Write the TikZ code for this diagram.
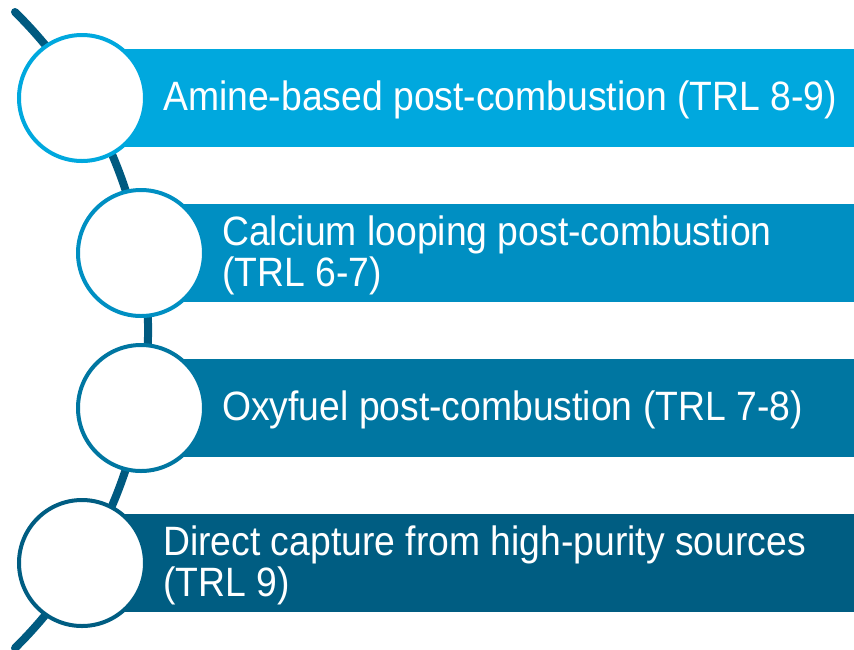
\documentclass[tikz,border=0pt]{standalone}
\usepackage{fontspec}
\setmainfont{Liberation Sans}[FakeStretch=0.91]
\definecolor{stepA}{HTML}{00A8DE}
\definecolor{stepB}{HTML}{008FC2}
\definecolor{stepC}{HTML}{0076A1}
\definecolor{stepD}{HTML}{005D82}
\definecolor{spine}{HTML}{005A80}
\begin{document}
\begin{tikzpicture}[x=1pt,y=-1pt,
  ring/.style={circle, draw=#1, fill=white, line width=4pt, minimum size=126pt, inner sep=0pt},
  label/.style={anchor=west, text=white, font=\fontsize{41}{41}\selectfont, align=left, inner sep=0pt}]
  \useasboundingbox (0,0) rectangle (854,649);
  % curved spine behind the circles
  \coordinate (spineTop) at (15,12);
  \draw[spine, line width=8pt, line cap=round] (spineTop) arc[start angle=-45.4, end angle=45.4, radius=446.7];
  % bars
  \fill[stepA] (82,49) rectangle (854,147);
  \fill[stepB] (141,204) rectangle (854,302);
  \fill[stepC] (141,359) rectangle (854,457);
  \fill[stepD] (82,514) rectangle (854,612);
  % circles
  \node[ring=stepA] (c1) at (82,98) {};
  \node[ring=stepB] (c2) at (141,253) {};
  \node[ring=stepC] (c3) at (141,408) {};
  \node[ring=stepD] (c4) at (82,563) {};
  % labels
  \node[label] (t1) at ([xshift=16pt,yshift=-2pt]c1.east) {Amine-based post-combustion (TRL 8-9)};
  \node[label] (t2) at ([xshift=16pt,yshift=-2pt]c2.east) {Calcium looping post-combustion\\(TRL 6-7)};
  \node[label] (t3) at ([xshift=16pt,yshift=-2pt]c3.east) {Oxyfuel post-combustion (TRL 7-8)};
  \node[label] (t4) at ([xshift=16pt,yshift=-2pt]c4.east) {Direct capture from high-purity sources\\(TRL 9)};
\end{tikzpicture}
\end{document}
